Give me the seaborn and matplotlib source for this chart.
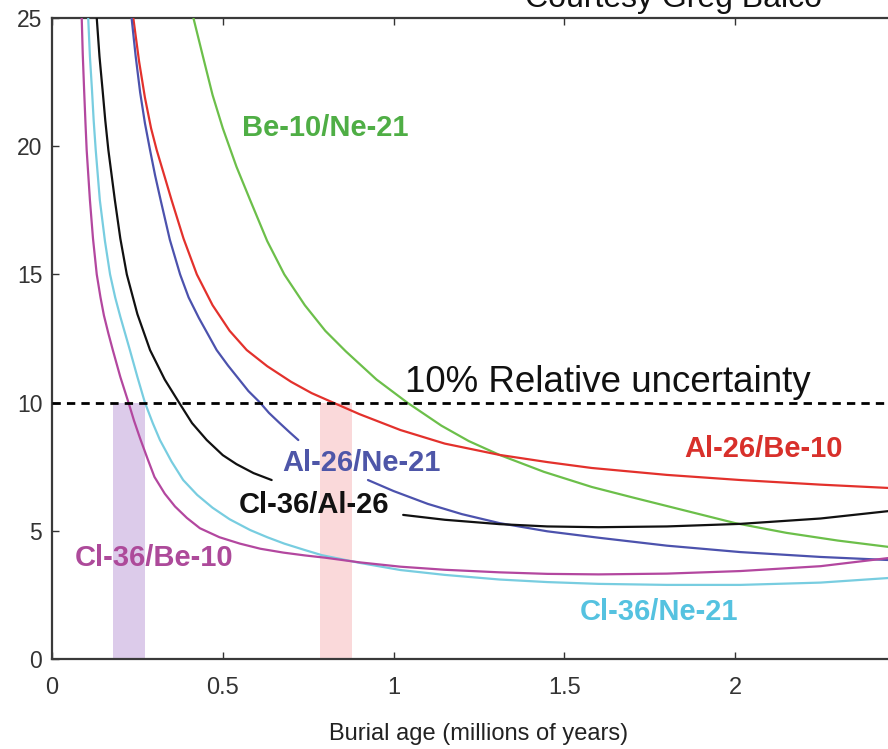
import matplotlib
matplotlib.use("Agg")
import matplotlib.pyplot as plt
import seaborn as sns
import pandas as pd

# Relative uncertainty (%) vs burial age (Myr) for nuclide pairs
be10_ne21_age = [0.414, 0.44, 0.47, 0.50, 0.54, 0.58, 0.63, 0.68, 0.74, 0.80, 0.86, 0.95, 1.04,
                 1.14, 1.22, 1.31, 1.44, 1.58, 1.7, 1.85, 2.0, 2.15, 2.3, 2.45]
be10_ne21_unc = [25.0, 23.6, 22.0, 20.7, 19.2, 17.9, 16.3, 15.0, 13.8, 12.8, 12.0, 10.9, 10.0,
                 9.1, 8.5, 7.96, 7.3, 6.71, 6.3, 5.8, 5.30, 4.92, 4.62, 4.37]

al26_be10_age = [0.238, 0.255, 0.272, 0.29, 0.3065, 0.33, 0.35, 0.385, 0.424, 0.47, 0.52, 0.57,
                 0.63, 0.70, 0.76, 0.823, 0.9, 1.02, 1.15, 1.31, 1.45, 1.58, 1.8, 2.015, 2.25, 2.45]
al26_be10_unc = [25.0, 23.3, 21.9, 20.7, 19.85, 18.8, 17.9, 16.4, 15.0, 13.8, 12.8, 12.05,
                 11.42, 10.81, 10.37, 10.0, 9.55, 8.93, 8.4, 7.96, 7.68, 7.45, 7.18, 6.98, 6.8, 6.67]

# Al-26/Ne-21 and Cl-36/Al-26 are broken where their labels sit
al26_ne21_age_a = [0.233, 0.245, 0.258, 0.272, 0.287, 0.302, 0.318, 0.345, 0.375, 0.40, 0.43,
                   0.455, 0.482, 0.515, 0.545, 0.575, 0.609, 0.635, 0.665, 0.695, 0.721]
al26_ne21_unc_a = [25.0, 23.5, 22.1, 20.9, 19.85, 18.85, 17.9, 16.35, 15.0, 14.1, 13.3,
                   12.7, 12.05, 11.45, 10.95, 10.45, 10.0, 9.6, 9.22, 8.85, 8.54]
al26_ne21_age_b = [0.925, 1.0, 1.1, 1.2, 1.31, 1.45, 1.6, 1.8, 2.015, 2.25, 2.45]
al26_ne21_unc_b = [6.98, 6.55, 6.05, 5.65, 5.30, 4.98, 4.73, 4.42, 4.17, 3.98, 3.86]

cl36_al26_age_a = [0.131, 0.139, 0.148, 0.156, 0.165, 0.184, 0.20, 0.219, 0.25, 0.287, 0.33,
                   0.372, 0.41, 0.453, 0.50, 0.54, 0.59, 0.643]
cl36_al26_unc_a = [25.0, 23.5, 22.2, 21.0, 19.85, 17.9, 16.4, 15.0, 13.45, 12.05, 10.9,
                   10.0, 9.2, 8.54, 7.95, 7.6, 7.25, 6.98]
cl36_al26_age_b = [1.028, 1.15, 1.31, 1.45, 1.6, 1.8, 2.015, 2.25, 2.45]
cl36_al26_unc_b = [5.62, 5.43, 5.26, 5.17, 5.14, 5.17, 5.27, 5.48, 5.77]

cl36_ne21_age = [0.106, 0.111, 0.117, 0.122, 0.128, 0.14, 0.155, 0.170, 0.185, 0.2, 0.228, 0.25,
                 0.272, 0.295, 0.316, 0.35, 0.384, 0.425, 0.47, 0.52, 0.58, 0.63, 0.68, 0.74,
                 0.79, 0.9, 1.02, 1.15, 1.31, 1.45, 1.6, 1.8, 2.015, 2.25, 2.45]
cl36_ne21_unc = [25.0, 23.5, 22.2, 21.0, 19.85, 17.9, 16.3, 15.0, 14.1, 13.35, 12.05, 11.0,
                 10.0, 9.2, 8.54, 7.7, 6.98, 6.4, 5.9, 5.45, 5.03, 4.75, 4.5, 4.25,
                 4.05, 3.75, 3.47, 3.28, 3.1, 3.0, 2.93, 2.89, 2.89, 2.98, 3.16]

cl36_be10_age = [0.087, 0.090, 0.094, 0.098, 0.1015, 0.111, 0.12, 0.131, 0.142, 0.152, 0.165,
                 0.178, 0.20, 0.224, 0.24, 0.258, 0.28, 0.30, 0.33, 0.36, 0.395, 0.433, 0.49,
                 0.55, 0.61, 0.677, 0.74, 0.8, 0.9, 1.02, 1.15, 1.31, 1.45, 1.6, 1.8, 2.015,
                 2.25, 2.45]
cl36_be10_unc = [25.0, 23.6, 22.2, 20.9, 19.85, 17.9, 16.4, 15.0, 14.1, 13.4, 12.7,
                 12.05, 11.0, 10.0, 9.3, 8.6, 7.8, 7.1, 6.45, 5.95, 5.5, 5.1, 4.75,
                 4.5, 4.3, 4.15, 4.04, 3.95, 3.77, 3.6, 3.48, 3.38, 3.32, 3.3, 3.33, 3.43,
                 3.62, 3.94]

# highlighted age windows where the 10% line is crossed
band_purple = (0.179, 0.272)
band_pink = (0.785, 0.878)
threshold = 10

xticks = [0, 0.5, 1, 1.5, 2, 2.5]
xticklabels = ["0", "0.5", "1", "1.5", "2", "2.5"]
yticks = [0, 5, 10, 15, 20, 25]

sns.set_theme(style="ticks")
plt.rcParams["font.family"] = ["Liberation Sans", "DejaVu Sans"]

fig = plt.figure(figsize=(8.88, 7.49), dpi=100)
ax = fig.add_axes([52 / 888, 90 / 749, 854 / 888, 641 / 749])

# shaded windows
ax.fill_between(band_purple, 0, threshold, color="#dccbea", lw=0, zorder=1)
ax.fill_between(band_pink, 0, threshold, color="#fad9da", lw=0, zorder=1)

series = [
    (be10_ne21_age, be10_ne21_unc, "#6cbf4a"),
    (al26_be10_age, al26_be10_unc, "#e3312c"),
    (al26_ne21_age_a, al26_ne21_unc_a, "#4c52ad"),
    (al26_ne21_age_b, al26_ne21_unc_b, "#4c52ad"),
    (cl36_al26_age_a, cl36_al26_unc_a, "#111111"),
    (cl36_al26_age_b, cl36_al26_unc_b, "#111111"),
    (cl36_ne21_age, cl36_ne21_unc, "#78cde0"),
    (cl36_be10_age, cl36_be10_unc, "#b3479f"),
]
for xs, ys, col in series:
    df = pd.DataFrame({"age": xs, "unc": ys})
    sns.lineplot(data=df, x="age", y="unc", sort=False, estimator=None,
                 color=col, lw=1.6, ax=ax, zorder=3)

ax.axhline(threshold, color="black", lw=2, ls=(0, (3, 2.2)), zorder=4)

ax.set_xlim(0, 2.5)
ax.set_ylim(0, 25)
ax.set_xticks(xticks)
ax.set_xticklabels(xticklabels)
ax.set_yticks(yticks)
ax.tick_params(axis="x", direction="in", length=5, width=1, pad=13,
               labelsize=17, top=True, colors="#333333")
ax.tick_params(axis="y", direction="in", length=5, width=1, pad=7,
               labelsize=16.5, right=True, colors="#333333")
for s in ax.spines.values():
    s.set_color("#3a3a3a")
    s.set_linewidth(1.6)
ax.set_xlabel("Burial age (millions of years)", fontsize=17, color="#222222", labelpad=17)
ax.set_ylabel("")

lab = dict(fontsize=21, fontweight="bold", ha="center", va="center", zorder=5)
ax.text(0.80, 20.7, "Be-10/Ne-21", color="#4fae45", **lab)
ax.text(2.082, 8.19, "Al-26/Be-10", color="#d8302b", **lab)
ax.text(0.906, 7.64, "Al-26/Ne-21", color="#4e56a8", **lab)
ax.text(0.767, 6.0, "Cl-36/Al-26", color="#111111", **lab)
ax.text(0.30, 3.94, "Cl-36/Be-10", color="#ad4a9a", **lab)
ax.text(1.777, 1.83, "Cl-36/Ne-21", color="#55c2e0", **lab)

ax.text(1.034, 10.41, "10% Relative uncertainty", fontsize=26.5, color="#111111",
        ha="left", va="baseline", zorder=5)
fig.text(673 / 888, 1 - 7 / 749, "Courtesy Greg Balco", fontsize=23, color="#111111",
         ha="center", va="baseline")

fig.savefig("out.png", dpi=100, facecolor="white")
